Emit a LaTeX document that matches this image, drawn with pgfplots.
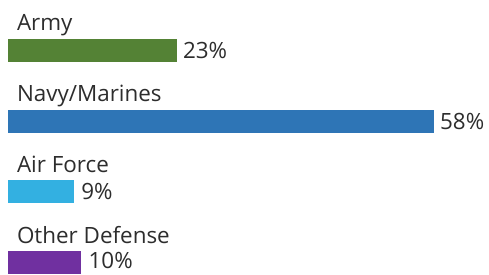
\documentclass[border=0pt]{standalone}
\usepackage{pgfplots}
\pgfplotsset{compat=1.18}
\usepackage{fontspec}
\setmainfont{Open Sans}
\definecolor{armyc}{RGB}{84,130,53}
\definecolor{navyc}{RGB}{46,117,182}
\definecolor{airc}{RGB}{51,176,225}
\definecolor{otherc}{RGB}{112,48,160}
\definecolor{txt}{RGB}{45,45,45}
\begin{document}
\begin{tikzpicture}
\begin{axis}[
  scale only axis, width=489bp, height=271bp,
  xmin=-1.09, xmax=65.5,
  ymin=-0.714, ymax=3.119, y dir=reverse,
  axis lines=none, ticks=none, clip=false,
  /pgf/number format/assume math mode=true,
  every node near coord/.append style={font=\fontsize{22.5}{26}\selectfont, text=txt, inner sep=0pt},
]
\draw[draw=none] (rel axis cs:0,0) rectangle (rel axis cs:1,1);
\addplot[xbar, bar shift=0pt, bar width=23bp, fill=armyc, draw=none,
  nodes near coords={23\%},
  nodes near coords align={anchor=west, xshift=6bp}] coordinates {(23,0)};
\addplot[xbar, bar shift=0pt, bar width=23bp, fill=navyc, draw=none,
  nodes near coords={58\%},
  nodes near coords align={anchor=west, xshift=6bp}] coordinates {(58,1)};
\addplot[xbar, bar shift=0pt, bar width=23bp, fill=airc, draw=none,
  nodes near coords={9\%},
  nodes near coords align={anchor=west, xshift=7bp}] coordinates {(9,2)};
\addplot[xbar, bar shift=0pt, bar width=23bp, fill=otherc, draw=none,
  nodes near coords={10\%},
  nodes near coords align={anchor=west, xshift=7bp, yshift=2bp}] coordinates {(10,3)};
\addplot[draw=none, mark=none, nodes near coords, point meta=explicit symbolic,
  nodes near coords align={anchor=base west}]
  table[meta=label, col sep=comma] {
x,y,label
1.2,-0.276,Army
1.2,0.724,Navy/Marines
1.2,1.724,Air Force
1.2,2.724,Other Defense
};
\end{axis}
\end{tikzpicture}
\end{document}
